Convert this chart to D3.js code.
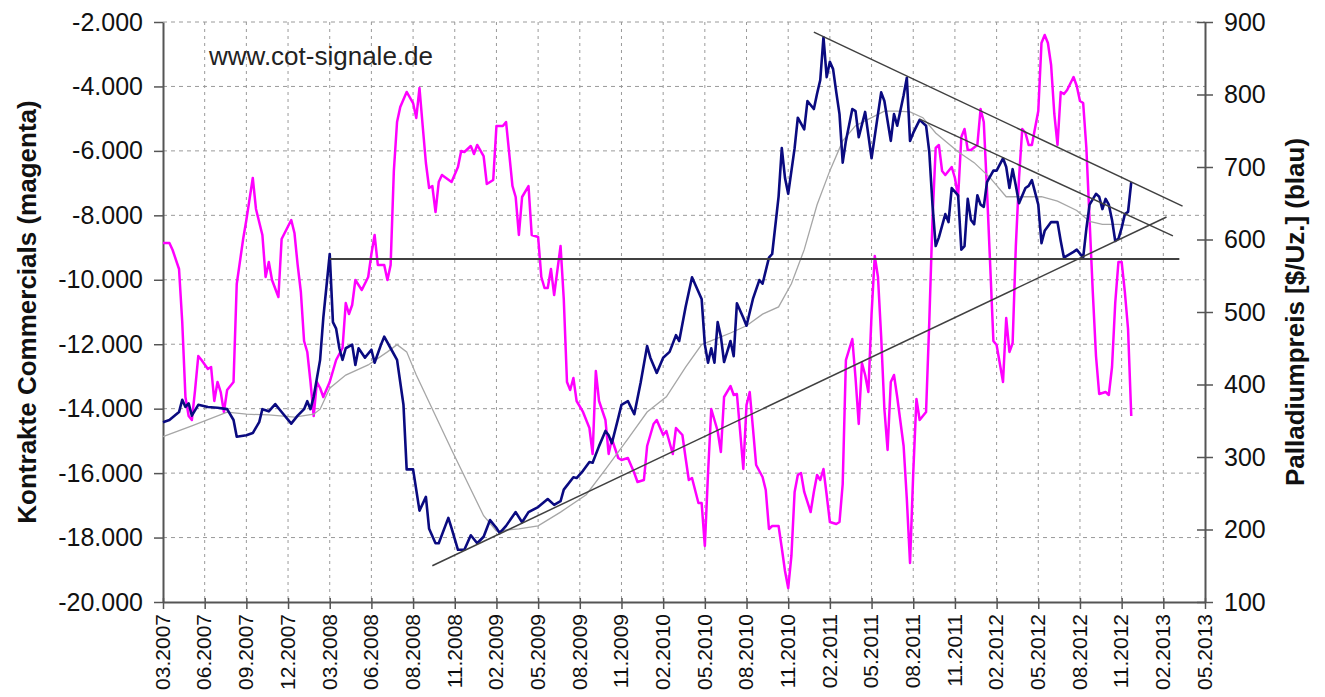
<!DOCTYPE html>
<html>
<head>
<meta charset="utf-8">
<script src="https://cdn.jsdelivr.net/npm/d3@7"></script>
<style>
  html, body { margin: 0; padding: 0; background: #fff; overflow: hidden; }
  svg { display: block; }
  text { font-family: Arial, "Liberation Sans", sans-serif; }
</style>
</head>
<body>
<div id="chart"></div>
<script>
// x-Achse: eine Marke alle 13 Wochen
const xTickLabels = ["03.2007","06.2007","09.2007","12.2007","03.2008","06.2008","08.2008","11.2008",
  "02.2009","05.2009","08.2009","11.2009","02.2010","05.2010","08.2010","11.2010","02.2011","05.2011",
  "08.2011","11.2011","02.2012","05.2012","08.2012","11.2012","02.2013","05.2013"];
const weeksPerTick = 13;
const commercialsTicks = d3.range(-20000, -1999, 2000);
const priceTicks = d3.range(100, 901, 100);

// [Woche, Kontrakte] - magenta, linke Achse
const commercials = [[0,-8859],[2,-8859],[3,-9076],[5,-9666],[6,-11310],[7,-13638],[8,-14228],[9,-14352],[10,-13421],[11,-12366],[12,-12490],[14,-12769],[15,-12707],[16,-13762],[17,-13172],[18,-13483],[19,-14103],[20,-13421],[22,-13172],[23,-10131],[25,-8734],[26,-8145],[28,-6841],[29,-7803],[31,-8610],[32,-9914],[33,-9448],[34,-10007],[36,-10534],[37,-8734],[40,-8145],[41,-8548],[42,-9541],[43,-10379],[44,-11900],[45,-12241],[46,-13172],[47,-14228],[48,-13172],[49,-13359],[50,-13638],[52,-13172],[54,-12490],[56,-12117],[57,-10721],[58,-11062],[59,-10783],[60,-10007],[62,-10317],[64,-9914],[65,-9200],[66,-8610],[67,-9541],[69,-9541],[70,-10007],[71,-9541],[72,-6624],[73,-5103],[74,-4638],[76,-4172],[78,-4514],[79,-4979],[80,-4048],[81,-5228],[82,-6376],[83,-7152],[84,-7090],[85,-7897],[86,-6966],[87,-6748],[90,-6966],[92,-6500],[93,-6003],[94,-6034],[96,-5848],[97,-6097],[98,-5817],[100,-6159],[101,-7028],[103,-6903],[104,-5228],[106,-5228],[107,-5103],[109,-7090],[110,-7431],[111,-8610],[112,-7431],[114,-7090],[115,-8610],[117,-8672],[118,-9914],[119,-10255],[120,-10255],[121,-9666],[122,-10472],[124,-8952],[125,-10597],[126,-13172],[127,-13421],[128,-13048],[129,-13762],[131,-14103],[133,-14600],[134,-15407],[135,-12831],[136,-13762],[138,-14352],[139,-15407],[140,-14941],[142,-15531],[143,-15593],[145,-15531],[147,-15997],[148,-16276],[150,-16214],[151,-15159],[153,-14476],[154,-14352],[156,-14817],[157,-14693],[159,-15407],[160,-14600],[162,-14817],[163,-15531],[164,-16214],[165,-16152],[167,-16928],[168,-16928],[169,-18262],[170,-15997],[171,-14010],[172,-14352],[173,-14693],[174,-15345],[175,-13638],[177,-13297],[178,-13576],[179,-13545],[180,-14693],[181,-15872],[182,-13886],[183,-13483],[184,-14600],[185,-15748],[187,-16121],[188,-16524],[189,-17734],[190,-17641],[192,-17641],[193,-18324],[194,-19038],[195,-19566],[196,-18572],[197,-16586],[198,-16059],[199,-15997],[200,-16586],[202,-17207],[203,-16586],[204,-16059],[205,-16214],[206,-15872],[207,-16679],[208,-17517],[210,-17579],[211,-17517],[212,-16338],[213,-12490],[215,-11838],[216,-13048],[217,-14476],[218,-12583],[219,-12955],[220,-13483],[221,-11062],[222,-9262],[223,-9914],[224,-11776],[225,-14010],[226,-15283],[227,-13172],[228,-12955],[229,-13638],[231,-15159],[232,-16803],[233,-18790],[234,-15997],[235,-13700],[236,-14352],[237,-14228],[238,-14103],[239,-11310],[240,-8145],[241,-5910],[242,-5817],[243,-6624],[244,-6748],[246,-6500],[247,-6841],[248,-7431],[249,-5569],[250,-5321],[251,-5972],[252,-5972],[254,-5817],[255,-4700],[256,-5103],[257,-7214],[258,-9541],[259,-11900],[260,-12024],[262,-13172],[263,-11186],[264,-12241],[265,-11962],[266,-8952],[267,-6841],[268,-5321],[269,-5445],[270,-5817],[271,-5817],[273,-4762],[274,-2652],[275,-2403],[276,-2652],[277,-3334],[278,-4855],[279,-5817],[280,-4172],[281,-4234],[282,-4110],[284,-3707],[285,-3986],[286,-4452],[287,-4514],[288,-5910],[289,-8145],[290,-10379],[291,-12366],[292,-13545],[294,-13483],[295,-13576],[296,-12707],[297,-10721],[298,-9448],[299,-9448],[300,-10379],[301,-11528],[302,-14228]];

// [Woche, $/Uz.] - blau, rechte Achse
const palladium = [[0,348],[2,351],[5,362],[6,379],[7,369],[8,374],[9,357],[11,372],[14,369],[17,368],[20,366],[22,351],[23,328],[26,330],[28,333],[30,348],[31,366],[33,363],[35,373],[37,362],[40,346],[42,357],[44,366],[45,377],[46,366],[47,383],[49,434],[50,492],[52,580],[53,486],[54,477],[55,450],[56,434],[57,450],[59,455],[60,427],[61,450],[63,437],[65,448],[66,430],[68,455],[69,466],[71,450],[73,434],[75,372],[76,283],[78,283],[80,226],[82,245],[83,201],[85,181],[86,181],[89,216],[90,202],[92,172],[94,172],[96,192],[98,181],[100,190],[102,213],[104,202],[105,195],[107,205],[110,224],[112,210],[114,224],[117,231],[120,242],[122,234],[124,239],[125,255],[128,272],[129,271],[131,281],[133,293],[134,292],[136,315],[138,336],[139,330],[140,319],[142,354],[143,372],[145,377],[147,359],[149,403],[151,453],[152,437],[154,416],[156,437],[158,445],[160,468],[161,460],[163,507],[165,548],[168,518],[169,455],[170,430],[171,450],[172,430],[173,486],[174,466],[175,431],[177,460],[178,439],[179,512],[181,492],[182,481],[184,518],[186,544],[187,539],[189,575],[190,580],[192,659],[193,726],[194,685],[195,663],[197,726],[198,768],[200,752],[201,791],[203,780],[204,801],[205,820],[206,879],[207,824],[208,845],[209,835],[210,803],[211,773],[212,706],[213,736],[215,780],[216,777],[217,741],[219,776],[221,712],[223,773],[224,803],[225,791],[227,736],[228,773],[229,757],[231,799],[232,823],[233,736],[234,747],[236,765],[238,757],[239,721],[240,648],[241,591],[242,603],[244,635],[245,624],[246,671],[248,661],[249,586],[250,591],[251,656],[252,627],[253,621],[254,661],[255,648],[256,645],[257,679],[259,695],[260,695],[262,712],[263,700],[264,671],[265,697],[266,674],[267,650],[269,671],[270,674],[271,682],[273,648],[274,595],[275,612],[277,624],[279,624],[280,598],[281,575],[284,583],[285,586],[287,575],[288,615],[289,648],[291,663],[292,659],[293,642],[294,656],[295,648],[296,627],[297,598],[298,601],[299,616],[300,635],[301,638],[302,679]];

// gleitender Durchschnitt (grau)
const palladiumAvg = [[0,328],[9,343],[20,362],[26,359],[33,358],[41,355],[47,359],[49,366],[52,395],[57,413],[64,427],[70,445],[73,455],[76,445],[79,413],[90,310],[100,219],[104,198],[111,201],[117,205],[124,224],[132,248],[138,283],[145,325],[151,362],[157,383],[163,424],[168,455],[177,471],[182,481],[187,497],[192,507],[196,539],[200,586],[204,648],[208,695],[212,736],[216,757],[221,768],[225,777],[229,777],[233,776],[237,768],[241,747],[248,721],[253,706],[258,685],[263,659],[268,659],[274,659],[279,653],[285,640],[289,625],[293,621],[298,621],[302,619]];

// Trendlinien [Woche, $/Uz.]
const supportLevel = [[52, 573], [317, 573]];
const supportTrend = [[84, 150], [313, 631]];
const upperTrend = [[203, 886], [318, 646]];
const innerTrend = [[236, 766], [315, 605]];

const width = 1325, height = 697;
const margin = { top: 22, right: 120, bottom: 95, left: 163 };
const innerWidth = width - margin.left - margin.right;
const innerHeight = height - margin.top - margin.bottom;

const svg = d3.select("#chart").append("svg")
  .attr("width", width).attr("height", height);
const g = svg.append("g").attr("transform", `translate(${margin.left},${margin.top})`);

const x = d3.scaleLinear().domain([0, (xTickLabels.length - 1) * weeksPerTick]).range([0, innerWidth]);
const yL = d3.scaleLinear().domain([-20000, -2000]).range([innerHeight, 0]);
const yR = d3.scaleLinear().domain([100, 900]).range([innerHeight, 0]);
const xTicks = xTickLabels.map((d, i) => i * weeksPerTick);

const de = d3.formatLocale({ decimal: ",", thousands: ".", grouping: [3], currency: ["", " €"], minus: "-" });
const fmt = de.format(",d");

// Gitter
g.append("g").selectAll("line")
  .data(commercialsTicks.filter(d => d > -20000)).enter().append("line")
  .attr("x1", 0).attr("x2", innerWidth)
  .attr("y1", d => yL(d)).attr("y2", d => yL(d))
  .attr("stroke", "#9a9a9a").attr("stroke-width", 1).attr("stroke-dasharray", "4,4");
g.append("g").selectAll("line")
  .data(xTicks.slice(1, -1)).enter().append("line")
  .attr("x1", d => x(d)).attr("x2", d => x(d))
  .attr("y1", 0).attr("y2", innerHeight)
  .attr("stroke", "#9a9a9a").attr("stroke-width", 1).attr("stroke-dasharray", "3,4");

// Achsen
const axisL = g.append("g")
  .call(d3.axisLeft(yL).tickValues(commercialsTicks).tickFormat(fmt).tickSizeInner(9).tickSizeOuter(0).tickPadding(11));
const axisR = g.append("g").attr("transform", `translate(${innerWidth},0)`)
  .call(d3.axisRight(yR).tickValues(priceTicks).tickSizeInner(8).tickSizeOuter(0).tickPadding(11));
axisR.selectAll(".tick line").attr("x1", -8);
const axisB = g.append("g").attr("transform", `translate(0,${innerHeight})`)
  .call(d3.axisBottom(x).tickValues(xTicks).tickFormat((d, i) => xTickLabels[i]).tickSizeInner(7).tickSizeOuter(0));
axisB.selectAll(".tick line").attr("y1", -4);

[axisL, axisR, axisB].forEach(a => {
  a.attr("font-family", null);
  a.select(".domain").attr("stroke", "#555").attr("stroke-width", 2);
  a.selectAll(".tick line").attr("stroke", "#555").attr("stroke-width", 1.5);
  a.selectAll(".tick text").attr("fill", "#111");
});
axisL.attr("font-size", 25);
axisR.attr("font-size", 25);
axisB.attr("font-size", 21);

// linke Beschriftung linksbündig gesetzt, damit das Textfeld exakt sitzt
axisL.selectAll(".tick text")
  .attr("text-anchor", "start")
  .attr("x", function () { return -20 - this.getComputedTextLength(); });

// x-Beschriftung gedreht, von unten nach oben
axisB.selectAll(".tick text")
  .attr("text-anchor", "start")
  .attr("transform", "rotate(-90)")
  .attr("y", 0).attr("dy", "0.3em")
  .attr("x", function () { return -12 - this.getComputedTextLength(); });

// Linien
const lineL = d3.line().x(d => x(d[0])).y(d => yL(d[1]));
const lineR = d3.line().x(d => x(d[0])).y(d => yR(d[1]));

g.append("path").datum(commercials).attr("d", lineL)
  .attr("fill", "none").attr("stroke", "#ff00ff").attr("stroke-width", 2.5).attr("stroke-linejoin", "round");
g.append("path").datum(palladiumAvg).attr("d", lineR)
  .attr("fill", "none").attr("stroke", "#a6a6a6").attr("stroke-width", 1.3);
g.append("path").datum(palladium).attr("d", lineR)
  .attr("fill", "none").attr("stroke", "#0a0a80").attr("stroke-width", 2.6).attr("stroke-linejoin", "round");

[supportLevel, supportTrend, upperTrend, innerTrend].forEach((t, i) => {
  g.append("path").datum(t).attr("d", lineR)
    .attr("fill", "none").attr("stroke", "#404040").attr("stroke-width", i === 0 ? 2 : 1.5);
});

// Texte
svg.append("text").attr("x", 209).attr("y", 65)
  .attr("font-size", 26).attr("fill", "#222").text("www.cot-signale.de");

svg.append("text")
  .attr("transform", `translate(27,${margin.top + innerHeight / 2}) rotate(-90)`)
  .attr("text-anchor", "middle").attr("dy", "0.35em")
  .attr("font-size", 26).attr("font-weight", "bold").attr("fill", "#111")
  .text("Kontrakte Commercials (magenta)");

svg.append("text")
  .attr("transform", `translate(1295,${margin.top + innerHeight / 2}) rotate(-90)`)
  .attr("text-anchor", "middle").attr("dy", "0.35em")
  .attr("font-size", 26).attr("font-weight", "bold").attr("fill", "#111")
  .text("Palladiumpreis [$/Uz.] (blau)");
</script>
</body>
</html>
